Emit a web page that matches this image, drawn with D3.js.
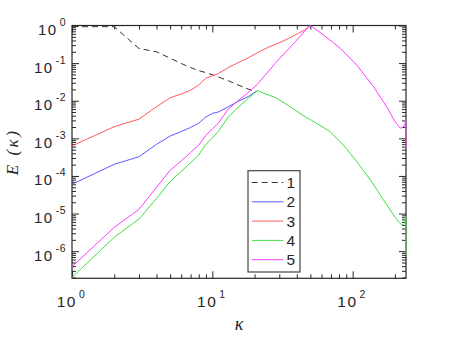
<!DOCTYPE html>
<html>
<head>
<meta charset="utf-8">
<script src="https://cdn.jsdelivr.net/npm/d3@7"></script>
<style>
  body { margin: 0; background: #fff; }
  svg { display: block; }
  .lbl { font-family: "Liberation Sans", Arial, Helvetica, sans-serif; fill: #262626; }
  .math { font-family: "Liberation Serif", "DejaVu Serif", serif; font-style: italic; fill: #262626; }
</style>
</head>
<body>
<svg width="449" height="337"></svg>
<script>
// spectra (kappa, E)
const kappa1 = [1, 2, 3, 4, 5, 6, 7, 8, 9, 10, 13, 15, 18, 20];
const energy1 = [0.93, 0.93, 0.245, 0.20, 0.135, 0.098, 0.076, 0.063, 0.056, 0.049, 0.034, 0.027, 0.0204, 0.0178];

const kappa2 = [1, 2, 3, 4, 5, 6, 7, 8, 9, 10, 11, 13, 15, 18, 21];
const energy2 = [6.0e-5, 2.04e-4, 3.24e-4, 6.9e-4, 1.15e-3, 1.51e-3, 1.95e-3, 2.51e-3, 3.72e-3, 4.6e-3,
                 5.0e-3, 6.9e-3, 9.3e-3, 0.0129, 0.0186];

const kappa3 = [1, 2, 3, 4, 5, 6, 7, 8, 9, 10, 11, 13, 15, 18, 21, 25, 30, 35, 40, 45, 50];
const energy3 = [6.3e-4, 2.04e-3, 3.24e-3, 6.9e-3, 0.012, 0.0151, 0.019, 0.0263, 0.0398, 0.046,
                 0.0525, 0.0759, 0.10, 0.138, 0.19, 0.263, 0.347, 0.457, 0.589, 0.741, 1.0];

const kappa4 = [1, 2, 3, 4, 5, 6, 7, 8, 9, 10, 11, 13, 15, 18, 21, 24, 28, 35, 46, 50, 69, 86, 107,
                134, 166, 196, 213, 225, 232, 236, 239, 240];
const energy4 = [2.0e-7, 2.34e-6, 7.1e-6, 2.5e-5, 7.1e-5, 1.32e-4, 2.24e-4, 3.63e-4, 6.9e-4, 1.02e-3,
                 1.51e-3, 3.7e-3, 6.3e-3, 0.0115, 0.0186, 0.0151, 0.0123, 7.4e-3, 3.7e-3, 3.16e-3, 1.51e-3,
                 6.6e-4, 2.4e-4, 7.8e-5, 2.3e-5, 9.1e-6, 6.0e-6, 4.9e-6, 5.4e-6, 6.6e-6, 8.5e-6, 7.9e-7];

const kappa5 = [1, 2, 3, 4, 5, 6, 7, 8, 9, 10, 11, 13, 15, 18, 21, 28, 39, 46, 50, 62, 82, 107, 141,
                176, 201, 219, 230, 236, 239, 240];
const energy5 = [3.9e-7, 4.3e-6, 1.29e-5, 5.0e-5, 1.41e-4, 2.5e-4, 4.2e-4, 6.6e-4, 1.2e-3, 1.78e-3,
                 2.5e-3, 6.0e-3, 9.5e-3, 0.0166, 0.0275, 0.098, 0.37, 0.74, 1.0, 0.56, 0.245, 0.089,
                 0.0234, 6.6e-3, 2.75e-3, 1.86e-3, 2.0e-3, 2.4e-3, 3.1e-3, 5.1e-4];

const seriesNames = ['1', '2', '3', '4', '5'];
const xDomain = [1, 240];
const yDomain = [1.9e-7, 1];

const colors = ['#333333', '#5a5aff', '#ff5a5a', '#3ee03e', '#ff3cff'];
const dashes = ['6,4', null, null, null, null];

const series = [
  [kappa1, energy1], [kappa2, energy2], [kappa3, energy3], [kappa4, energy4], [kappa5, energy5]
].map(([ks, es], i) => ({
  name: seriesNames[i],
  points: ks.map((k, j) => ({k, e: es[j]}))
}));

const svg = d3.select('svg');
const plotL = 72, plotR = 406, plotT = 25.5, plotB = 278.3;

const x = d3.scaleLog().domain(xDomain).range([plotL, plotR]);
const y = d3.scaleLog().domain(yDomain).range([plotB, plotT]);

const isMajor = d => Math.abs(Math.log10(d) - Math.round(Math.log10(d))) < 1e-9;
const xTicks = x.ticks();
const yTicks = y.ticks();
const xMajor = xTicks.filter(isMajor), xMinor = xTicks.filter(d => !isMajor(d));
const yMajor = yTicks.filter(isMajor), yMinor = yTicks.filter(d => !isMajor(d));

const axisColor = '#262626';

// box
svg.append('rect')
  .attr('x', plotL).attr('y', plotT)
  .attr('width', plotR - plotL).attr('height', plotB - plotT)
  .attr('fill', 'none').attr('stroke', axisColor).attr('stroke-width', 1.2);

// inward ticks on all four sides
const tickSet = (axis, tr, values, size) => {
  svg.append('g')
    .attr('transform', tr)
    .style('color', axisColor)
    .call(axis.tickValues(values).tickSize(size).tickFormat(''))
    .call(g => g.select('.domain').remove());
};
[[xMajor, -7], [xMinor, -4]].forEach(([v, s]) => {
  tickSet(d3.axisBottom(x), `translate(0,${plotB})`, v, s);
  tickSet(d3.axisTop(x), `translate(0,${plotT})`, v, s);
});
[[yMajor, -7], [yMinor, -4]].forEach(([v, s]) => {
  tickSet(d3.axisLeft(y), `translate(${plotL},0)`, v, s);
  tickSet(d3.axisRight(y), `translate(${plotR},0)`, v, s);
});

// tick labels 10^n
const power = d => String(Math.round(Math.log10(d)));
const label = (sel) => {
  sel.append('tspan').text('10');
  sel.append('tspan').attr('dx', 2).attr('dy', -9).attr('font-size', 10.5).attr('letter-spacing', 0.5).text(power);
};

svg.append('g').selectAll('text').data(xMajor).join('text')
  .attr('class', 'lbl')
  .attr('x', d => x(d) - 1)
  .attr('y', 306.7)
  .attr('text-anchor', 'middle')
  .attr('font-size', 15.5)
  .attr('letter-spacing', 1.5)
  .call(label);

svg.append('g').selectAll('text').data(yMajor).join('text')
  .attr('class', 'lbl')
  .attr('x', 66)
  .attr('y', d => y(d) + 9.5)
  .attr('text-anchor', 'end')
  .attr('font-size', 15)
  .attr('letter-spacing', 1.5)
  .call(label);

// axis titles
svg.append('text')
  .attr('class', 'math')
  .attr('x', (plotL + plotR) / 2)
  .attr('y', 330)
  .attr('text-anchor', 'middle')
  .attr('font-size', 18)
  .text('κ');

svg.append('text')
  .attr('class', 'math')
  .attr('transform', `translate(18,${(plotT + plotB) / 2}) rotate(-90)`)
  .attr('text-anchor', 'middle')
  .attr('font-size', 17)
  .attr('letter-spacing', 2.5)
  .text('E (κ)');

// spectra
const line = d3.line().x(d => x(d.k)).y(d => y(d.e));

svg.append('g').selectAll('path').data(series).join('path')
  .attr('d', d => line(d.points))
  .attr('fill', 'none')
  .attr('stroke', (d, i) => colors[i])
  .attr('stroke-width', 1)
  .attr('stroke-dasharray', (d, i) => dashes[i]);

// legend
const lg = svg.append('g');
lg.append('rect')
  .attr('x', 248).attr('y', 170.7)
  .attr('width', 52).attr('height', 101.3)
  .attr('fill', '#fff').attr('stroke', '#444').attr('stroke-width', 1.2);

const rows = lg.selectAll('g.row').data(series).join('g')
  .attr('class', 'row')
  .attr('transform', (d, i) => `translate(0,${182.5 + i * 19.3})`);
rows.append('line')
  .attr('x1', 251.7).attr('x2', 283.3)
  .attr('stroke', (d, i) => colors[i])
  .attr('stroke-width', 1)
  .attr('stroke-dasharray', (d, i) => dashes[i]);
rows.append('text')
  .attr('class', 'lbl')
  .attr('x', 286.5)
  .attr('y', 5.5)
  .attr('font-size', 15.5)
  .text(d => d.name);
</script>
</body>
</html>
